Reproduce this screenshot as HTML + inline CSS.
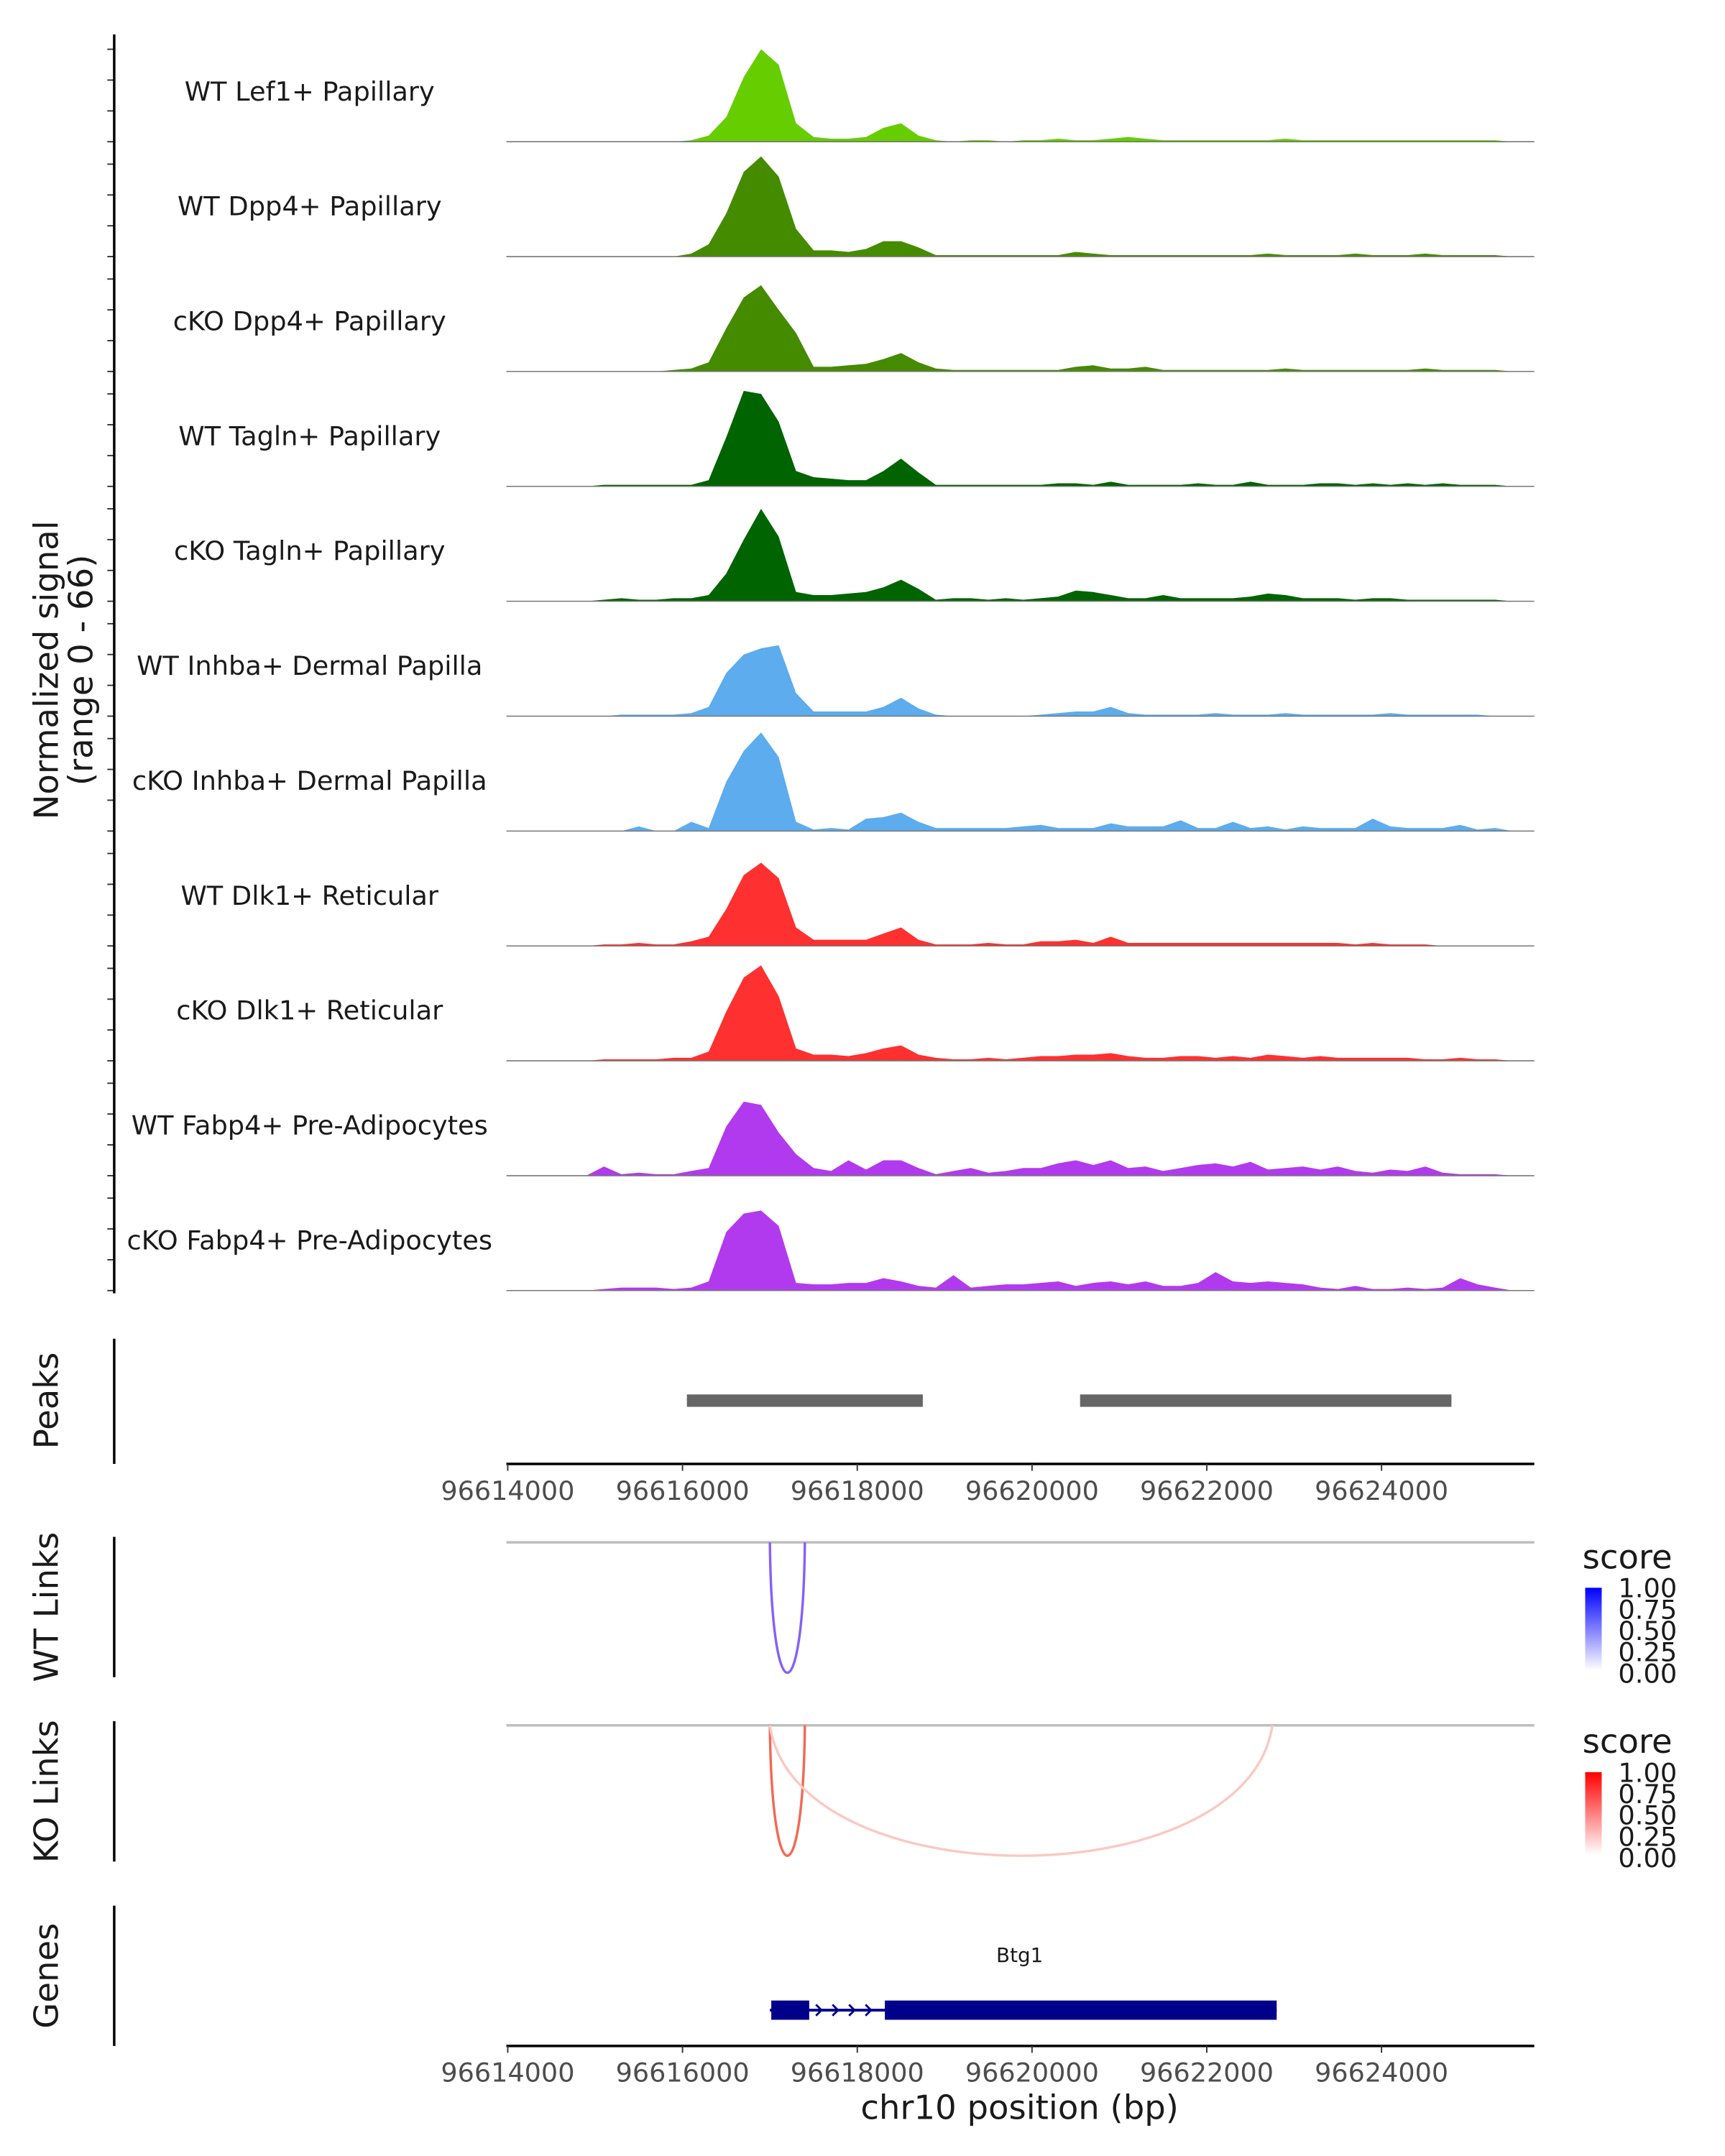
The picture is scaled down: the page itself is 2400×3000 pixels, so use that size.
<!DOCTYPE html>
<html><head><meta charset="utf-8">
<style>
html,body{margin:0;padding:0;background:#fff;}
svg{display:block;font-family:"DejaVu Sans","Liberation Sans",sans-serif;}
</style></head>
<body>
<svg id="chart" width="2400" height="3000" viewBox="0 0 1253.6 1567" preserveAspectRatio="none" xmlns="http://www.w3.org/2000/svg">
<g id="tracks"></g>
<g id="decor"></g>
</svg>
<script>
const trackNames = ["WT Lef1+ Papillary","WT Dpp4+ Papillary","cKO Dpp4+ Papillary","WT Tagln+ Papillary","cKO Tagln+ Papillary","WT Inhba+ Dermal Papilla","cKO Inhba+ Dermal Papilla","WT Dlk1+ Reticular","cKO Dlk1+ Reticular","WT Fabp4+ Pre-Adipocytes","cKO Fabp4+ Pre-Adipocytes"];
const trackColors = ["#66cd00","#458b00","#458b00","#006400","#006400","#5cacee","#5cacee","#ff3030","#ff3030","#b23aee","#b23aee"];
const binStart = 96614000;
const binSize = 200;
const sigLef1WT = [0,0,0,0,0,0,0,0,0,0, 1,4,16,42,60,50,12,3,2,2, 3,9,12,4,1,0,1,1,0,1, 1,2,1,1,2,3,2,1,1,1, 1,1,1,1,2,1,1,1,1,1, 1,1,1,1,1,1,1,0];
const sigDpp4WT = [0,0,0,0,0,0,0,0,0,0, 2,8,28,55,65,52,18,4,4,3, 5,10,10,6,1,1,1,1,1,1, 1,1,3,2,1,1,1,1,1,1, 1,1,1,2,1,1,1,1,2,1, 1,1,2,1,1,1,1,0];
const sigDpp4KO = [0,0,0,0,0,0,0,0,0,1, 2,6,28,48,56,40,25,3,3,4, 5,8,12,6,2,1,1,1,1,1, 1,1,3,4,2,2,3,1,1,1, 1,1,1,1,2,1,1,1,1,1, 1,1,2,1,1,1,1,0];
const sigTaglnWT = [0,0,0,0,0,1,1,1,1,1, 1,4,32,62,60,42,10,6,5,4, 4,10,18,9,1,1,1,1,1,1, 1,2,2,1,3,1,1,1,1,2, 1,1,3,1,1,1,2,2,1,2, 1,2,1,2,1,1,1,0];
const sigTaglnKO = [0,0,0,0,0,1,2,1,1,2, 2,4,18,40,60,42,6,4,4,5, 6,9,14,8,1,2,2,1,2,1, 2,3,7,6,4,2,2,4,2,2, 2,2,3,5,4,2,2,2,1,2, 2,1,1,1,1,1,1,0];
const sigInhbaWT = [0,0,0,0,0,0,1,1,1,1, 2,6,28,40,44,46,15,3,3,3, 3,6,12,5,1,0,0,0,0,0, 1,2,3,3,6,2,1,1,1,1, 2,1,1,1,2,1,1,1,1,1, 2,1,1,1,1,1,0,0];
const sigInhbaKO = [0,0,0,0,0,0,0,3,0,0, 6,2,32,52,64,48,6,1,2,1, 8,9,12,6,2,2,2,2,2,3, 4,2,2,2,5,3,3,3,7,2, 2,6,2,3,1,3,2,2,2,8, 3,2,2,2,4,1,2,0];
const sigDlk1WT = [0,0,0,0,0,1,1,2,1,1, 3,6,24,46,54,44,12,4,4,4, 4,8,12,4,1,1,1,2,1,1, 3,3,4,2,6,2,2,2,2,2, 2,2,2,2,2,2,2,2,1,2, 1,1,1,0,0,0,0,0];
const sigDlk1KO = [0,0,0,0,0,1,1,1,1,2, 2,6,32,54,62,42,8,4,4,3, 5,8,10,4,2,1,1,2,1,2, 3,3,4,4,5,3,2,2,3,3, 2,3,2,4,3,2,3,2,2,2, 2,2,1,1,2,1,1,0];
const sigFabp4WT = [0,0,0,0,0,6,1,2,1,1, 3,5,32,48,46,28,14,5,3,10, 4,10,10,5,1,3,5,2,3,5, 5,8,10,7,10,5,6,3,5,7, 8,6,9,4,5,6,4,6,3,2, 4,3,6,2,1,1,1,0];
const sigFabp4KO = [0,0,0,0,0,1,2,2,2,1, 2,6,38,50,52,42,5,4,4,5, 5,8,6,3,2,10,2,3,4,4, 5,6,3,5,6,4,6,3,3,5, 12,6,5,6,5,4,2,1,3,1, 1,2,1,2,8,4,2,0];
const signals = [sigLef1WT,sigDpp4WT,sigDpp4KO,sigTaglnWT,sigTaglnKO,sigInhbaWT,sigInhbaKO,sigDlk1WT,sigDlk1KO,sigFabp4WT,sigFabp4KO];
const yTicks = [0,20,40,60];
const xTicks = [96614000,96616000,96618000,96620000,96622000,96624000];
const peakStarts = [96616050,96620550];
const peakEnds = [96618750,96624800];
const linkStartsWT = [96617000];
const linkEndsWT = [96617400];
const linkScoresWT = [0.7];
const linkStartsKO = [96617000,96617000];
const linkEndsKO = [96617400,96622750];
const linkScoresKO = [0.7,0.25];
const legendLabels = ["1.00","0.75","0.50","0.25","0.00"];
const exonStarts = [96617000,96618300];
const exonEnds = [96617450,96622800];

const NS="http://www.w3.org/2000/svg";
const X0=369, BP0=96614000, PXBP=0.0635;
function xs(bp){return X0+(bp-BP0)*PXBP;}
const baseline0=103, trackGap=83.5, pxUnit=1.12;
function ys(i,v){return baseline0+i*trackGap - v*pxUnit;}
function mk(tag,attrs,parent){const e=document.createElementNS(NS,tag);for(const k in attrs)e.setAttribute(k,attrs[k]);parent.appendChild(e);return e;}
const T=document.getElementById('tracks'), D=document.getElementById('decor');

signals.forEach((arr,i)=>{
  let pts=[[xs(binStart),ys(i,0)]];
  arr.forEach((v,j)=>{pts.push([xs(binStart+j*binSize+binSize/2),ys(i,v)]);});
  pts.push([xs(binStart+arr.length*binSize),ys(i,0)]);
  const p=mk('polygon',{points:pts.map(q=>q[0].toFixed(1)+','+q[1].toFixed(1)).join(' '),fill:trackColors[i]},T);
  
  
  const bl=mk('line',{x1:368,x2:1115,y1:ys(i,0),y2:ys(i,0),stroke:'#777','stroke-width':0.8},T);
  
  
  const t=mk('text',{x:225,y:ys(i,0)-30,'text-anchor':'middle','font-size':19.2,fill:'#1a1a1a'},T);
  t.textContent=trackNames[i];
  
  
  yTicks.forEach(v=>{
    const tk=mk('line',{x1:78,x2:83,y1:ys(i,v),y2:ys(i,v),stroke:'#333','stroke-width':1},T);
    
    
  });
});
function vline(y1,y2,name){const l=mk('line',{x1:83,x2:83,y1:y1,y2:y2,stroke:'#000','stroke-width':1.8},D);}
vline(25,940,'y-axis-line');vline(973,1064,'peaks-axis-line');vline(1117,1219,'wt-links-axis-line');vline(1251,1353,'ko-links-axis-line');vline(1385,1487,'genes-axis-line');
function rlabel(x,y,txt,name){const t=mk('text',{transform:`translate(${x},${y}) rotate(-90)`,'text-anchor':'middle','font-size':24.3,fill:'#1a1a1a'},D);t.textContent=txt;return t;}
const yt=mk('text',{transform:'translate(42,487) rotate(-90)','text-anchor':'middle','font-size':24.3,fill:'#1a1a1a'},D);


yt.innerHTML='<tspan x="0" dy="0">Normalized signal</tspan><tspan x="0" dy="25">(range 0 - 66)</tspan>';
rlabel(42,1018,'Peaks','peaks-label');rlabel(42,1168,'WT Links','wt-links-label');rlabel(42,1302,'KO Links','ko-links-label');rlabel(42,1436,'Genes','genes-label');
peakStarts.forEach((s,i)=>{const r=mk('rect',{x:xs(s),y:1013.5,width:xs(peakEnds[i])-xs(s),height:9,fill:'#666'},D);});
function xaxis(y,name){
  const l=mk('line',{x1:368,x2:1115,y1:y,y2:y,stroke:'#000','stroke-width':1.8},D);
  
  
  xTicks.forEach(b=>{
    const tk=mk('line',{x1:xs(b),x2:xs(b),y1:y,y2:y+5,stroke:'#333','stroke-width':1},D);
    
    
    const t=mk('text',{x:xs(b),y:y+26,'text-anchor':'middle','font-size':19.1,fill:'#4d4d4d'},D);
    t.textContent=b;
    
    
  });
}
xaxis(1064,'peaks-x-axis');xaxis(1487,'genes-x-axis');
const xt=mk('text',{x:741,y:1540,'text-anchor':'middle','font-size':24.3,fill:'#1a1a1a'},D);
xt.textContent='chr10 position (bp)';


function links(top,starts,ends,scores,rgb,name){
  const g=mk('line',{x1:368,x2:1115,y1:top,y2:top,stroke:'#bebebe','stroke-width':1.8},D);
  
  
  starts.forEach((s,i)=>{
    const a=xs(s),b=xs(ends[i]);const depth=95;
    const c=`rgb(${Math.round(255-(255-rgb[0])*scores[i])},${Math.round(255-(255-rgb[1])*scores[i])},${Math.round(255-(255-rgb[2])*scores[i])})`;
    const p=mk('path',{d:`M${a},${top} C${a+(b-a)*0.05},${top+depth*1.33} ${b-(b-a)*0.05},${top+depth*1.33} ${b},${top}`,fill:'none',stroke:c,'stroke-width':1.8},D);
    
    
  });
}
links(1121,linkStartsWT,linkEndsWT,linkScoresWT,[80,30,240],'wt-link');
links(1254,linkStartsKO,linkEndsKO,linkScoresKO,[235,40,10],'ko-link');
function legend(y0,col,id,name){
  const defs=mk('defs',{},D);
  const lg=mk('linearGradient',{id:id,x1:0,y1:1,x2:0,y2:0},defs);
  mk('stop',{offset:0,'stop-color':'#fff'},lg);mk('stop',{offset:1,'stop-color':col},lg);
  const t=mk('text',{x:1150,y:y0,'font-size':24.3,fill:'#1a1a1a'},D);
  t.textContent='score';
  
  
  const r=mk('rect',{x:1152,y:y0+14,width:12,height:60,fill:`url(#${id})`},D);
  
  
  legendLabels.forEach((s,i)=>{
    const tt=mk('text',{x:1176,y:y0+21+i*15.5,'font-size':19.2,fill:'#1a1a1a'},D);
    tt.textContent=s;
    
    
  });
}
legend(1140,'#0000ff','gb','wt-legend');legend(1274,'#ff0000','gr','ko-legend');
const geneY=1461;
const gl=mk('line',{x1:xs(exonStarts[0]),x2:xs(exonEnds[1]),y1:geneY,y2:geneY,stroke:'#00008b','stroke-width':2},D);


exonStarts.forEach((s,i)=>{const r=mk('rect',{x:xs(s)+1,y:geneY-7,width:xs(exonEnds[i])-xs(s)-1,height:14,fill:'#00008b'},D);});
[596,608,620,632].forEach(x=>{const a=mk('path',{d:`M${x-3},${geneY-4} L${x+1},${geneY} L${x-3},${geneY+4}`,fill:'none',stroke:'#00008b','stroke-width':1.5},D);});
const gn=mk('text',{x:741,y:1426,'text-anchor':'middle','font-size':14.5,fill:'#1a1a1a'},D);
gn.textContent='Btg1';


</script>
</body></html>
